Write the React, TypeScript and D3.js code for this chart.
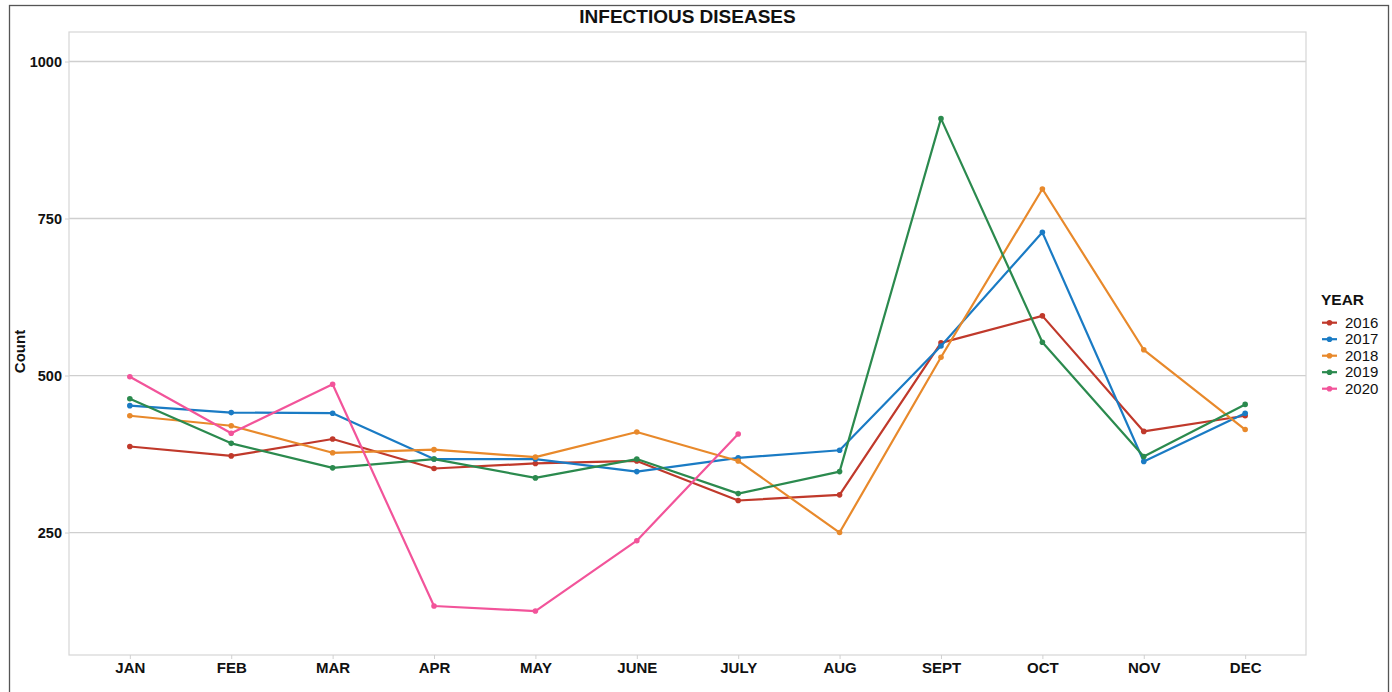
import React, { useEffect, useRef } from 'react';
import * as d3 from 'd3';

// months on the x axis
const months = ['JAN', 'FEB', 'MAR', 'APR', 'MAY', 'JUNE', 'JULY', 'AUG', 'SEPT', 'OCT', 'NOV', 'DEC'];

// counts per year
const y2016 = [387, 372, 399, 352, 360, 364, 301, 310, 552, 595, 411, 436];
const y2017 = [452, 441, 440, 367, 367, 347, 369, 381, 547, 728, 363, 440];
const y2018 = [436, 420, 377, 382, 370, 410, 364, 250, 529, 797, 541, 414];
const y2019 = [463, 392, 353, 367, 337, 367, 312, 347, 909, 553, 371, 454];
const y2020 = [498, 408, 486, 133, 125, 237, 407];

const years = ['2016', '2017', '2018', '2019', '2020'];
const colors = ['#c0392b', '#1a7bc4', '#e8892b', '#2b8a4e', '#f2549a'];
const yTicks = [250, 500, 750, 1000];

const App = () => {
  const ref = useRef(null);

  useEffect(() => {
    const svg = d3.select(ref.current);
    svg.selectAll('*').remove();

    const font = '"Liberation Sans", Arial, Helvetica, sans-serif';
    const panel = { left: 69, top: 32, right: 1306, bottom: 655 };

    // outer frame
    svg.append('rect')
      .attr('x', 9.5).attr('y', 5.5)
      .attr('width', 1379).attr('height', 700)
      .attr('fill', 'white')
      .attr('stroke', '#555').attr('stroke-width', 1.3);

    const x = d3.scalePoint()
      .domain(months)
      .range([panel.left, panel.right])
      .padding(0.6);

    const y = d3.scaleLinear()
      .domain([55, 1047])
      .range([panel.bottom, panel.top]);

    // gridlines
    svg.append('g')
      .selectAll('line')
      .data(yTicks)
      .enter()
      .append('line')
      .attr('x1', panel.left).attr('x2', panel.right)
      .attr('y1', d => y(d)).attr('y2', d => y(d))
      .attr('stroke', '#cfcfcf').attr('stroke-width', 1.3);

    // panel border
    svg.append('rect')
      .attr('x', panel.left).attr('y', panel.top)
      .attr('width', panel.right - panel.left).attr('height', panel.bottom - panel.top)
      .attr('fill', 'none')
      .attr('stroke', '#d6d6d6').attr('stroke-width', 1.2);

    // axes
    const xAxis = svg.append('g')
      .attr('transform', `translate(0,${panel.bottom})`)
      .call(d3.axisBottom(x).tickSize(4).tickPadding(3));
    xAxis.select('.domain').remove();
    xAxis.selectAll('line').attr('stroke', '#d0d0d0');
    xAxis.selectAll('text')
      .attr('fill', '#111')
      .style('font-family', font)
      .style('font-size', '15px')
      .style('font-weight', 'bold');

    const yAxis = svg.append('g')
      .attr('transform', `translate(${panel.left},0)`)
      .call(d3.axisLeft(y).tickValues(yTicks).tickFormat(d3.format('d')).tickSize(4).tickPadding(3));
    yAxis.select('.domain').remove();
    yAxis.selectAll('line').attr('stroke', '#d0d0d0');
    yAxis.selectAll('text')
      .attr('fill', '#111')
      .style('font-family', font)
      .style('font-size', '14.5px')
      .style('font-weight', 'bold');

    // title
    svg.append('text')
      .attr('x', (panel.left + panel.right) / 2)
      .attr('y', 23)
      .attr('text-anchor', 'middle')
      .style('font-family', font)
      .style('font-size', '19px')
      .style('font-weight', 'bold')
      .attr('fill', '#111')
      .text('INFECTIOUS DISEASES');

    // y axis title
    svg.append('text')
      .attr('transform', `translate(25,${(panel.top + panel.bottom) / 2 + 8}) rotate(-90)`)
      .attr('text-anchor', 'middle')
      .style('font-family', font)
      .style('font-size', '15px')
      .style('font-weight', 'bold')
      .attr('fill', '#111')
      .text('Count');

    // lines + points
    const series = [y2016, y2017, y2018, y2019, y2020];
    const line = d3.line()
      .x((d, i) => x(months[i]))
      .y(d => y(d));

    series.forEach((vals, si) => {
      const g = svg.append('g');
      g.append('path')
        .datum(vals)
        .attr('d', line)
        .attr('fill', 'none')
        .attr('stroke', colors[si])
        .attr('stroke-width', 2.2)
        .attr('stroke-linejoin', 'round');
      g.selectAll('circle')
        .data(vals)
        .enter()
        .append('circle')
        .attr('cx', (d, i) => x(months[i]))
        .attr('cy', d => y(d))
        .attr('r', 2.8)
        .attr('fill', colors[si]);
    });

    // legend
    const legend = svg.append('g');
    legend.append('text')
      .attr('x', 1321).attr('y', 305)
      .style('font-family', font)
      .style('font-size', '15.5px')
      .style('font-weight', 'bold')
      .attr('fill', '#111')
      .text('YEAR');

    const items = legend.selectAll('g.item')
      .data(years)
      .enter()
      .append('g')
      .attr('class', 'item')
      .attr('transform', (d, i) => `translate(0,${322.7 + i * 16.5})`);
    items.append('line')
      .attr('x1', 1322).attr('x2', 1337)
      .attr('stroke', (d, i) => colors[i]).attr('stroke-width', 2.2);
    items.append('circle')
      .attr('cx', 1329.5).attr('r', 2.8)
      .attr('fill', (d, i) => colors[i]);
    items.append('text')
      .attr('x', 1345).attr('y', 5)
      .style('font-family', font)
      .style('font-size', '15px')
      .attr('fill', '#111')
      .text(d => d);
  }, []);

  return <svg ref={ref} width={1392} height={692} style={{ position: 'absolute', left: 0, top: 0 }} />;
};

export default App;
